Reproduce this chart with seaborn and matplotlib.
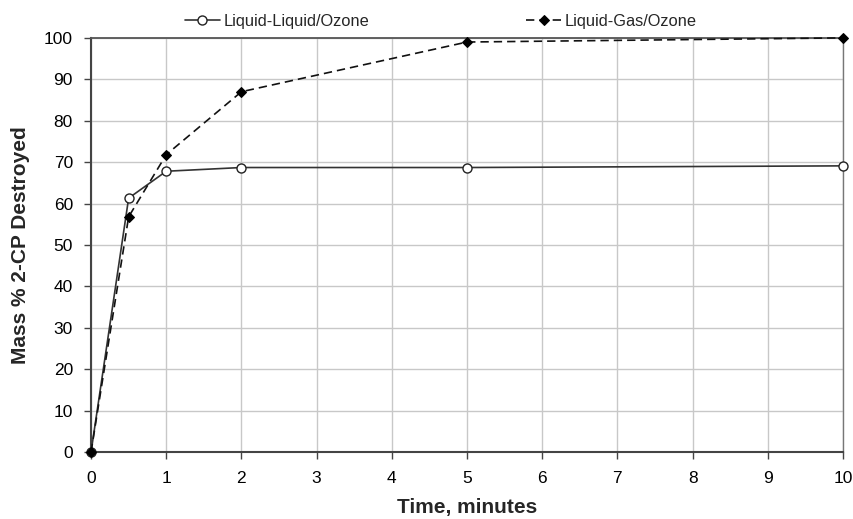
import matplotlib
matplotlib.use("Agg")
import matplotlib.pyplot as plt
import seaborn as sns
import pandas as pd

time_ll = [0, 0.5, 1, 2, 5, 10]
mass_ll = [0, 61.3, 67.8, 68.7, 68.7, 69.1]
time_lg = [0, 0.5, 1, 2, 5, 10]
mass_lg = [0, 56.8, 71.8, 87.0, 99.0, 100.0]
series_names = ["Liquid-Liquid/Ozone", "Liquid-Gas/Ozone"]
x_ticks = list(range(0, 11))
y_ticks = list(range(0, 101, 10))

sns.set_theme(style="white")
plt.rcParams['font.family'] = ['Liberation Sans', 'DejaVu Sans']

fig = plt.figure(figsize=(8.54, 5.19), dpi=100)
ax = fig.add_axes([0.1066, 0.129, 0.8805, 0.798])

df_ll = pd.DataFrame({"t": time_ll, "m": mass_ll})
df_lg = pd.DataFrame({"t": time_lg, "m": mass_lg})

sns.lineplot(data=df_ll, x="t", y="m", ax=ax, color="#333333", linewidth=1.2,
             marker="o", markersize=6.5, markerfacecolor="white", markeredgecolor="#222222",
             markeredgewidth=1.0, label=series_names[0], clip_on=False, zorder=3)
sns.lineplot(data=df_lg, x="t", y="m", ax=ax, color="#111111", linewidth=1.2,
             linestyle=(0, (5, 3)), marker="D", markersize=5, markerfacecolor="black",
             markeredgecolor="black", label=series_names[1], clip_on=False, zorder=4)

ax.set_xlim(0, 10)
ax.set_ylim(0, 100)
ax.set_xticks(x_ticks)
ax.set_yticks(y_ticks)
ax.grid(True, color="#c8c8c8", linewidth=1.0)
ax.set_axisbelow(True)
for side in ["left", "bottom"]:
    ax.spines[side].set_color("#444444")
    ax.spines[side].set_linewidth(1.5)
ax.spines["top"].set_color("#555555")
ax.spines["top"].set_linewidth(1.3)
ax.spines["right"].set_color("#777777")
ax.spines["right"].set_linewidth(1.0)
ax.tick_params(axis="both", labelsize=12.5, colors="black", length=5, width=1, color="#444444")
ax.tick_params(axis="y", direction="out", left=True, pad=8)
ax.tick_params(axis="x", direction="out", bottom=True, pad=9)
ax.set_xlabel("Time, minutes", fontsize=15, fontweight="bold", labelpad=8)
ax.set_ylabel("Mass % 2-CP Destroyed", fontsize=15, fontweight="bold", labelpad=10)

leg = ax.legend(loc="lower center", bbox_to_anchor=(0.465, 1.0), ncol=2, frameon=False,
                fontsize=11.8, columnspacing=9.6, handlelength=2.15, handletextpad=0.2,
                borderaxespad=0.15)

fig.savefig("out.png", dpi=100)
